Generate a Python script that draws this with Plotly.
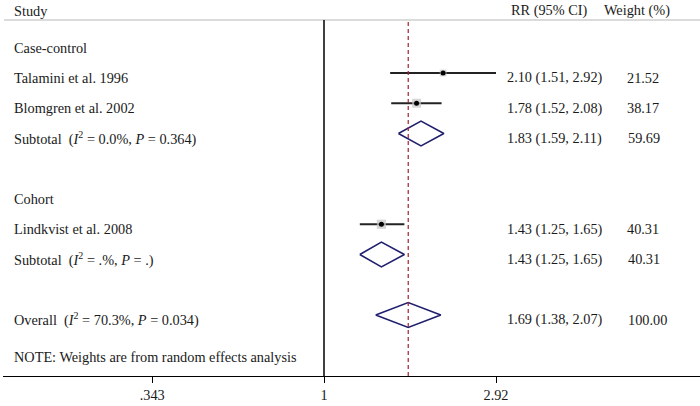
import plotly.graph_objects as go

# individual studies
studies = ["Talamini et al. 1996", "Blomgren et al. 2002", "Lindkvist et al. 2008"]
study_rr = [2.10, 1.78, 1.43]
study_lo = [1.51, 1.52, 1.25]
study_hi = [2.92, 2.08, 1.65]
study_w = [21.52, 38.17, 40.31]
study_row = [0, 1, 5]

# pooled estimates (diamonds)
pooled = ["Subtotal&nbsp; (<i>I</i><sup>2</sup> = 0.0%, <i>P</i> = 0.364)",
          "Subtotal&nbsp; (<i>I</i><sup>2</sup> = .%, <i>P</i> = .)",
          "Overall&nbsp; (<i>I</i><sup>2</sup> = 70.3%, <i>P</i> = 0.034)"]
pooled_rr = [1.83, 1.43, 1.69]
pooled_lo = [1.59, 1.25, 1.38]
pooled_hi = [2.11, 1.65, 2.07]
pooled_w = [59.69, 40.31, 100.00]
pooled_row = [2, 6, 8]

groups = ["Case-control", "Cohort"]
group_row = [-1, 4]

tick_vals = [0.343, 1, 2.92]
tick_text = [".343", "1", "2.92"]

FONT = "Liberation Serif"
FS = 14.3
TXT = "#1a1a1a"
NAVY = "#1f1f6e"

fig = go.Figure()

# confidence interval lines
for r, lo, hi in zip(study_row, study_lo, study_hi):
    fig.add_trace(go.Scatter(x=[lo, hi], y=[r, r], mode="lines",
                             line=dict(color="#222222", width=2),
                             hoverinfo="skip", showlegend=False))

# weight boxes
fig.add_trace(go.Scatter(x=study_rr, y=study_row, mode="markers",
                         marker=dict(symbol="square", color="#c4c4c4",
                                     size=[1.45 * w ** 0.5 for w in study_w],
                                     line=dict(width=0)),
                         hoverinfo="skip", showlegend=False))
# point estimates
fig.add_trace(go.Scatter(x=study_rr, y=study_row, mode="markers",
                         marker=dict(color="black", size=5),
                         hoverinfo="skip", showlegend=False))

# diamonds
h = 0.41
for r, est, lo, hi in zip(pooled_row, pooled_rr, pooled_lo, pooled_hi):
    fig.add_trace(go.Scatter(x=[lo, est, hi, est, lo], y=[r, r - h, r, r + h, r],
                             mode="lines", line=dict(color=NAVY, width=1.6),
                             hoverinfo="skip", showlegend=False))

ann = []
def txt(x, y, s, yref="y", shift=-5):
    ann.append(dict(x=x, y=y, xref="paper", yref=yref, text=s, showarrow=False,
                    xanchor="left", yanchor="middle", yshift=shift,
                    font=dict(family=FONT, size=FS, color=TXT)))

# header
txt(0.0129, 0.971, "Study", "paper", 0)
txt(0.7259, 0.971, "RR (95% CI)", "paper", 0)
txt(0.8594, 0.971, "Weight (%)", "paper", 0)

for g, r in zip(groups, group_row):
    txt(0.0129, r, g)
for s, r, e, lo, hi, w in zip(studies, study_row, study_rr, study_lo, study_hi, study_w):
    txt(0.0129, r, s)
    txt(0.7202, r, "%.2f (%.2f, %.2f)" % (e, lo, hi))
    txt(0.8923, r, "%.2f" % w)
for s, r, e, lo, hi, w in zip(pooled, pooled_row, pooled_rr, pooled_lo, pooled_hi, pooled_w):
    txt(0.0129, r, s)
    txt(0.7202, r, "%.2f (%.2f, %.2f)" % (e, lo, hi))
    txt(0.8938, r, "%.2f" % w)

txt(0.0129, 0.0505, "NOTE: Weights are from random effects analysis", "paper", 0)

top = 0.9468
shapes = [
    dict(type="line", xref="paper", yref="paper", x0=0.0015, x1=1, y0=top, y1=top,
         line=dict(color="#b8b8b8", width=1.2)),
    dict(type="line", xref="x", yref="paper", x0=1, x1=1, y0=0, y1=top,
         line=dict(color="black", width=1.5)),
    dict(type="line", xref="x", yref="paper", x0=pooled_rr[2], x1=pooled_rr[2], y0=0, y1=top,
         line=dict(color="#a3202e", width=1.2, dash="4px,3px")),
]

fig.update_layout(
    width=700, height=406,
    margin=dict(l=3, r=0, t=0, b=30),
    paper_bgcolor="white", plot_bgcolor="white",
    annotations=ann, shapes=shapes,
    xaxis=dict(type="log", range=[-0.8685, 1.0173], tickvals=tick_vals, ticktext=tick_text,
               ticks="outside", ticklen=6, tickcolor="black", tickwidth=1,
               showline=True, linecolor="black", linewidth=1.2,
               showgrid=False, zeroline=False, fixedrange=True,
               tickfont=dict(family=FONT, size=FS, color=TXT)),
    yaxis=dict(range=[10.017, -2.413], visible=False, showgrid=False, zeroline=False,
               fixedrange=True),
)

# page body has a default 8px margin; drop it so the figure sits at the corner
fig.write_html("out.html", config={"displayModeBar": False},
               post_script="document.body.style.margin='0';")
